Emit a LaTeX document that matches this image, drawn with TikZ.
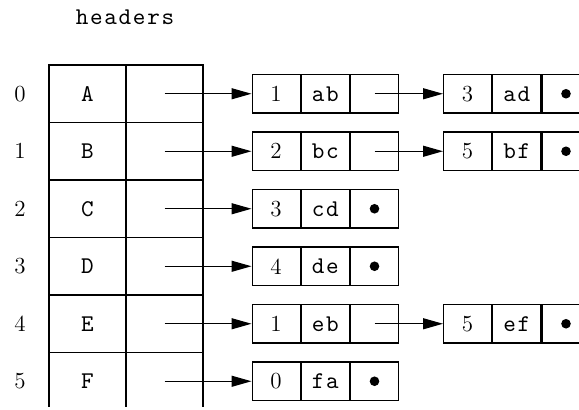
\documentclass[tikz,border=0pt]{standalone}
\usepackage{fontspec}
\setmonofont{lmmono10-regular.otf}[LetterSpace=7]
\usetikzlibrary{arrows.meta}
\tikzset{
  idx/.style={font=\fontsize{11.5}{13}\selectfont, inner sep=0pt},
  tcell/.style={draw, line width=0.6pt, minimum width=38.5pt, minimum height=28.75pt, inner sep=0pt, font=\fontsize{12}{14}\selectfont\ttfamily},
  lcell/.style={draw, line width=0.6pt, minimum width=24pt, minimum height=19.2pt, inner sep=0pt, font=\fontsize{11.5}{13}\selectfont},
  ttxt/.style={font=\fontsize{12}{14}\selectfont\ttfamily},
  arr/.style={line width=0.6pt, -{Triangle[length=10pt,width=5.5pt]}, shorten >=0pt},
  nil/.style={fill=black},
}
\newcommand\listnode[5]{%
  \node[lcell, anchor=west] (#1a) at (#2,#3) {#4};
  \node[lcell, anchor=west, font=\fontsize{12}{14}\selectfont\ttfamily] (#1b) at (#1a.east) {#5};
  \node[lcell, anchor=west] (#1c) at (#1b.east) {};
}
\begin{document}
\begin{tikzpicture}[x=0.5pt,y=-0.5pt]
\useasboundingbox (0,0) rectangle (579,409);
\clip (0,0) rectangle (579,406);
\node[ttxt] (head) at (125,17) {headers};
\foreach \i/\L in {0/A,1/B,2/C,3/D,4/E,5/F}{
  \node[idx] (i\i) at (20, 93.75+57.5*\i) {\i};
  \node[tcell] (L\i) at (87.5, 93.75+57.5*\i) {\L};
  \node[tcell] (R\i) at (164.5, 93.75+57.5*\i) {};
}
% first-level list nodes
\listnode{p0}{251.5}{93.75}{1}{ab}
\listnode{p1}{251.5}{151.25}{2}{bc}
\listnode{p2}{251.5}{208.75}{3}{cd}
\listnode{p3}{251.5}{266.25}{4}{de}
\listnode{p4}{251.5}{323.75}{1}{eb}
\listnode{p5}{251.5}{381.25}{0}{fa}
% second-level list nodes
\listnode{q0}{443}{93.75}{3}{ad}
\listnode{q1}{443}{151.25}{5}{bf}
\listnode{q4}{443}{323.75}{5}{ef}
% nil pointers
\foreach \n in {p2c,p3c,p5c,q0c,q1c,q4c}{
  \fill[nil] (\n.center) circle[radius=2.4pt];
}
% arrows
\foreach \i in {0,...,5}{
  \draw[arr] (R\i.center) -- (p\i a.west);
}
\foreach \i in {0,1,4}{
  \draw[arr] (p\i c.center) -- (q\i a.west);
}
\end{tikzpicture}
\end{document}
